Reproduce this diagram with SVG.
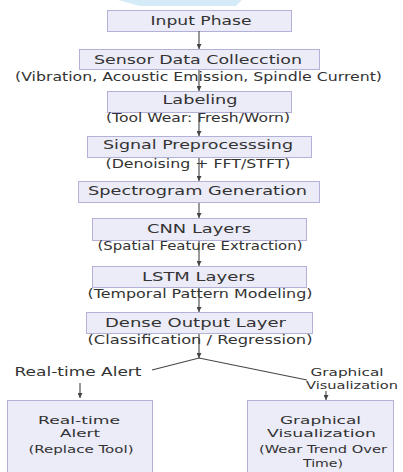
<svg xmlns="http://www.w3.org/2000/svg" width="403" height="472" viewBox="0 0 403 472">
  <style>
    .box { fill: #ecebf8; stroke: #b4b1d9; stroke-width: 1; }
    .t { font-family: "DejaVu Sans", "Liberation Sans", sans-serif; fill: #333333; text-anchor: middle; }
    .h { font-size: 12px; }
    .s { font-size: 11.5px; }
    .b { font-size: 11px; }
    .wire { stroke: #444444; stroke-width: 1.1; fill: none; }
  </style>
  <defs>
    <marker id="arrow" viewBox="0 0 8 8" refX="8" refY="4" markerWidth="5" markerHeight="5" orient="auto" markerUnits="userSpaceOnUse">
      <path d="M0,0 L8,4 L0,8 z" fill="#444444"/>
    </marker>
  </defs>

  <rect width="403" height="472" fill="#ffffff"/>
  <!-- faint band at the top edge -->
  <polygon points="118,0 242,0 236,6 140,6" fill="#d5ebf8"/>

  <g id="input-phase">
    <rect class="box" x="107.5" y="10.5" width="184" height="21"/>
    <text class="t h" x="201" y="25" textLength="101" lengthAdjust="spacingAndGlyphs">Input Phase</text>
  </g>
  <g id="sensor-data">
    <rect class="box" x="79.5" y="49.5" width="240" height="20"/>
    <text class="t h" x="198" y="64" textLength="208" lengthAdjust="spacingAndGlyphs">Sensor Data Collecction</text>
    <text class="t s" x="198.5" y="81" textLength="367" lengthAdjust="spacingAndGlyphs">(Vibration, Acoustic Emission, Spindle Current)</text>
  </g>
  <g id="labeling">
    <rect class="box" x="107.5" y="91.5" width="184" height="21"/>
    <text class="t h" x="200" y="104" textLength="75" lengthAdjust="spacingAndGlyphs">Labeling</text>
    <text class="t s" x="198" y="122" textLength="184" lengthAdjust="spacingAndGlyphs">(Tool Wear: Fresh/Worn)</text>
  </g>
  <g id="signal-preprocessing">
    <rect class="box" x="87.5" y="136.5" width="224" height="21"/>
    <text class="t h" x="198" y="149" textLength="190" lengthAdjust="spacingAndGlyphs">Signal Preprocesssing</text>
    <text class="t s" x="198" y="168" textLength="185" lengthAdjust="spacingAndGlyphs">(Denoising + FFT/STFT)</text>
  </g>
  <g id="spectrogram">
    <rect class="box" x="78.5" y="181.5" width="241" height="21"/>
    <text class="t h" x="197.5" y="195" textLength="219" lengthAdjust="spacingAndGlyphs">Spectrogram Generation</text>
  </g>
  <g id="cnn-layers">
    <rect class="box" x="92.5" y="218.5" width="214" height="22"/>
    <text class="t h" x="199" y="233" textLength="104" lengthAdjust="spacingAndGlyphs">CNN Layers</text>
    <text class="t s" x="200" y="250" textLength="205" lengthAdjust="spacingAndGlyphs">(Spatial Feature Extraction)</text>
  </g>
  <g id="lstm-layers">
    <rect class="box" x="92.5" y="266.5" width="214" height="21"/>
    <text class="t h" x="198.5" y="281" textLength="113" lengthAdjust="spacingAndGlyphs">LSTM Layers</text>
    <text class="t s" x="200" y="298" textLength="225" lengthAdjust="spacingAndGlyphs">(Temporal Pattern Modeling)</text>
  </g>
  <g id="dense-output">
    <rect class="box" x="86.5" y="312.5" width="226" height="21"/>
    <text class="t h" x="195.5" y="327" textLength="181" lengthAdjust="spacingAndGlyphs">Dense Output Layer</text>
    <text class="t s" x="200" y="344" textLength="225" lengthAdjust="spacingAndGlyphs">(Classification / Regression)</text>
  </g>

  <g id="branch-labels">
    <text class="t h" x="78" y="376" textLength="127" lengthAdjust="spacingAndGlyphs">Real-time Alert</text>
    <text class="t b" x="347" y="376" textLength="73" lengthAdjust="spacingAndGlyphs">Graphical</text>
    <text class="t b" x="352" y="389" textLength="92" lengthAdjust="spacingAndGlyphs">Visualization</text>
  </g>

  <g id="realtime-alert">
    <rect class="box" x="7.5" y="400.5" width="145" height="80"/>
    <text class="t b" x="79" y="424" textLength="82" lengthAdjust="spacingAndGlyphs">Real-time</text>
    <text class="t b" x="80" y="437" textLength="40" lengthAdjust="spacingAndGlyphs">Alert</text>
    <text class="t b" x="81" y="453" textLength="105" lengthAdjust="spacingAndGlyphs">(Replace Tool)</text>
  </g>
  <g id="graphical-visualization">
    <rect class="box" x="247.5" y="400.5" width="146" height="80"/>
    <text class="t b" x="320.5" y="424" textLength="81" lengthAdjust="spacingAndGlyphs">Graphical</text>
    <text class="t b" x="321.5" y="437" textLength="109" lengthAdjust="spacingAndGlyphs">Visualization</text>
    <text class="t b" x="323" y="453" textLength="128" lengthAdjust="spacingAndGlyphs">(Wear Trend Over</text>
    <text class="t b" x="323" y="467" textLength="40" lengthAdjust="spacingAndGlyphs">Time)</text>
  </g>

  <g id="connectors">
    <line class="wire" x1="199" y1="31" x2="199" y2="49" marker-end="url(#arrow)"/>
    <line class="wire" x1="199" y1="70" x2="199" y2="91" marker-end="url(#arrow)"/>
    <line class="wire" x1="199" y1="113" x2="199" y2="136" marker-end="url(#arrow)"/>
    <line class="wire" x1="199" y1="158" x2="199" y2="181" marker-end="url(#arrow)"/>
    <line class="wire" x1="199" y1="203" x2="199" y2="218" marker-end="url(#arrow)"/>
    <line class="wire" x1="199" y1="241" x2="199" y2="266" marker-end="url(#arrow)"/>
    <line class="wire" x1="199" y1="288" x2="199" y2="312" marker-end="url(#arrow)"/>
    <line class="wire" x1="199" y1="334" x2="199" y2="358" marker-end="url(#arrow)"/>
    <polyline class="wire" points="152,370 199,358 307,380"/>
    <line class="wire" x1="80" y1="383" x2="80" y2="398" marker-end="url(#arrow)"/>
    <line class="wire" x1="326" y1="391" x2="326" y2="400" marker-end="url(#arrow)"/>
  </g>
</svg>
